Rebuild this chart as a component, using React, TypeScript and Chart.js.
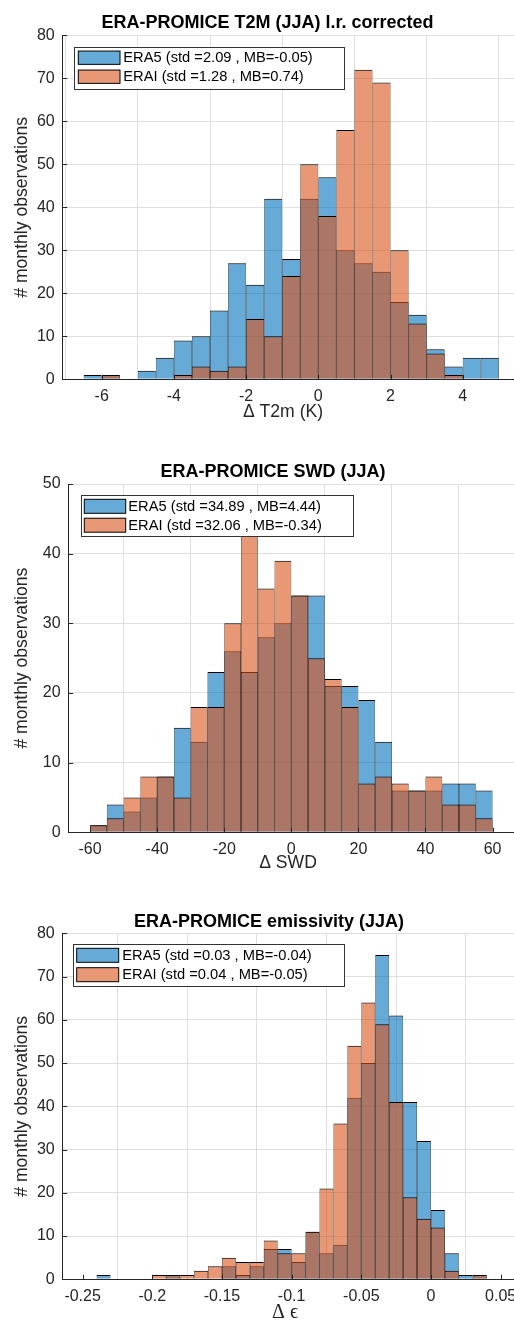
import React, { useEffect, useRef } from 'react';
import { Chart, registerables } from 'chart.js';

Chart.register(...registerables);

const SANS = '"Liberation Sans", Arial, Helvetica, sans-serif';
const SERIF = '"Liberation Serif", "DejaVu Serif", serif';
const AXIS = '#262626';
const GRID = '#dfdfdf';
const BLUE = 'rgba(0,114,189,0.6)';
const ORANGE = 'rgba(217,83,25,0.6)';

// ---------- Panel 1: T2M ----------
const t2mBins = [-6.25, -5.75, -5.25, -4.75, -4.25, -3.75, -3.25, -2.75, -2.25, -1.75, -1.25, -0.75, -0.25, 0.25, 0.75, 1.25, 1.75, 2.25, 2.75, 3.25, 3.75, 4.25, 4.75];
const t2mEra5 = [1, 1, 0, 2, 5, 9, 10, 16, 27, 22, 42, 28, 42, 47, 30, 27, 25, 18, 15, 7, 3, 5, 5];
const t2mErai = [0, 1, 0, 0, 0, 1, 3, 2, 3, 14, 10, 24, 50, 38, 58, 72, 69, 30, 13, 6, 1, 0, 0];
const t2mXTicks = [-6, -4, -2, 0, 2, 4];
const t2mYTicks = [0, 10, 20, 30, 40, 50, 60, 70, 80];
const t2mLegend = ['ERA5 (std =2.09 , MB=-0.05)', 'ERAI (std =1.28 , MB=0.74)'];

// ---------- Panel 2: SWD ----------
const swdBins = [-57.5, -52.5, -47.5, -42.5, -37.5, -32.5, -27.5, -22.5, -17.5, -12.5, -7.5, -2.5, 2.5, 7.5, 12.5, 17.5, 22.5, 27.5, 32.5, 37.5, 42.5, 47.5, 52.5, 57.5];
const swdEra5 = [1, 4, 3, 5, 8, 15, 13, 23, 26, 23, 28, 30, 34, 34, 21, 21, 19, 13, 6, 6, 6, 7, 7, 6];
const swdErai = [1, 2, 5, 8, 8, 5, 18, 18, 30, 43, 35, 39, 34, 25, 22, 18, 7, 8, 7, 6, 8, 4, 4, 2];
const swdXTicks = [-60, -40, -20, 0, 20, 40, 60];
const swdYTicks = [0, 10, 20, 30, 40, 50];
const swdLegend = ['ERA5 (std =34.89 , MB=4.44)', 'ERAI (std =32.06 , MB=-0.34)'];

// ---------- Panel 3: emissivity ----------
const emiBins = [-0.245, -0.235, -0.225, -0.215, -0.205, -0.195, -0.185, -0.175, -0.165, -0.155, -0.145, -0.135, -0.125, -0.115, -0.105, -0.095, -0.085, -0.075, -0.065, -0.055, -0.045, -0.035, -0.025, -0.015, -0.005, 0.005, 0.015, 0.025, 0.035, 0.045];
const emiEra5 = [0, 1, 0, 0, 0, 0, 1, 0, 0, 0, 3, 1, 3, 7, 7, 4, 11, 6, 8, 42, 50, 75, 61, 41, 32, 16, 6, 1, 1, 0];
const emiErai = [0, 0, 0, 0, 0, 1, 1, 1, 2, 3, 5, 4, 4, 9, 6, 6, 11, 21, 36, 54, 64, 59, 41, 19, 14, 12, 2, 0, 1, 0];
const emiXTicks = [-0.25, -0.2, -0.15, -0.1, -0.05, 0, 0.05];
const emiYTicks = [0, 10, 20, 30, 40, 50, 60, 70, 80];
const emiLegend = ['ERA5 (std =0.03 , MB=-0.04)', 'ERAI (std =0.04 , MB=-0.05)'];

const CANVAS_W = 530;

type Panel = {
  top: number; height: number;
  chartTop: number; chartBottom: number; chartLeft: number; chartRight: number;
  xMin: number; xMax: number; yMax: number;
  bins: number[]; era5: number[]; erai: number[];
  xTicks: number[]; yTicks: number[];
  title: string; titleX: number; titleY: number;
  xLabel: string; xLabelX: number; xLabelY: number; xLabelFont: string; xLabelSize: number;
  yLabel: string; yLabelX: number;
  legend: string[];
  legBox: [number, number, number, number];
  legPatchX: number; legPatchW: number; legPatchH: number;
  legRows: number[]; legTextX: number;
};

const panels: Panel[] = [
  {
    top: 0, height: 430,
    chartTop: 35.3, chartBottom: 379.3, chartLeft: 62.7, chartRight: 514,
    xMin: -7.08, xMax: 5.42, yMax: 80,
    bins: t2mBins, era5: t2mEra5, erai: t2mErai,
    xTicks: t2mXTicks, yTicks: t2mYTicks,
    title: 'ERA-PROMICE T2M (JJA) l.r. corrected', titleX: 267.5, titleY: 27.5,
    xLabel: 'Δ T2m (K)', xLabelX: 283, xLabelY: 412, xLabelFont: SANS, xLabelSize: 17.6,
    yLabel: '# monthly observations', yLabelX: 22,
    legend: t2mLegend,
    legBox: [74, 46.7, 270, 41.6],
    legPatchX: 78.3, legPatchW: 41.7, legPatchH: 13.3,
    legRows: [57.7, 76.7], legTextX: 123.3,
  },
  {
    top: 440, height: 440,
    chartTop: 484, chartBottom: 832.3, chartLeft: 68.6, chartRight: 514,
    xMin: -66.4, xMax: 66.4, yMax: 50,
    bins: swdBins, era5: swdEra5, erai: swdErai,
    xTicks: swdXTicks, yTicks: swdYTicks,
    title: 'ERA-PROMICE SWD (JJA)', titleX: 273, titleY: 477,
    xLabel: 'Δ SWD', xLabelX: 288, xLabelY: 863, xLabelFont: SANS, xLabelSize: 17.6,
    yLabel: '# monthly observations', yLabelX: 22,
    legend: swdLegend,
    legBox: [80.7, 495, 272, 41],
    legPatchX: 84.3, legPatchW: 41.4, legPatchH: 14,
    legRows: [506.3, 525.2], legTextX: 128.3,
  },
  {
    top: 890, height: 437,
    chartTop: 933.3, chartBottom: 1279.3, chartLeft: 62.7, chartRight: 514,
    xMin: -0.2643, xMax: 0.0596, yMax: 80,
    bins: emiBins, era5: emiEra5, erai: emiErai,
    xTicks: emiXTicks, yTicks: emiYTicks,
    title: 'ERA-PROMICE emissivity (JJA)', titleX: 269, titleY: 927,
    xLabel: 'Δ ϵ', xLabelX: 285, xLabelY: 1313, xLabelFont: SERIF, xLabelSize: 20,
    yLabel: '# monthly observations', yLabelX: 22,
    legend: emiLegend,
    legBox: [72.7, 944, 271.3, 42],
    legPatchX: 76.7, legPatchW: 42, legPatchH: 14,
    legRows: [955.3, 974.7], legTextX: 122.3,
  },
];

function HistPanel({ p, idx }: { p: Panel; idx: number }) {
  const ref = useRef<HTMLCanvasElement | null>(null);
  useEffect(() => {
    if (!ref.current) return;
    const xAxisH = 30;
    const padTop = p.chartTop - p.top;
    const padBottom = p.height - (p.chartBottom - p.top) - xAxisH;
    const padRight = CANVAS_W - p.chartRight;
    const off = p.top;

    const decor = {
      id: 'decor' + idx,
      afterDraw(chart: any) {
        const ctx = chart.ctx as CanvasRenderingContext2D;
        const xs = chart.scales.x;
        const ys = chart.scales.y;
        const { left, bottom } = chart.chartArea;
        ctx.save();
        // inward tick marks
        ctx.strokeStyle = AXIS;
        ctx.lineWidth = 1;
        ctx.beginPath();
        for (const v of p.xTicks) {
          const px = Math.round(xs.getPixelForValue(v)) + 0.5;
          ctx.moveTo(px, bottom);
          ctx.lineTo(px, bottom - 4.5);
        }
        for (const v of p.yTicks) {
          const py = Math.round(ys.getPixelForValue(v)) + 0.5;
          ctx.moveTo(left, py);
          ctx.lineTo(left + 4.5, py);
        }
        ctx.stroke();

        // legend
        const [bx, by, bw, bh] = p.legBox;
        ctx.fillStyle = '#ffffff';
        ctx.fillRect(bx, by - off, bw, bh);
        ctx.strokeStyle = '#333333';
        ctx.lineWidth = 1;
        ctx.strokeRect(Math.round(bx) + 0.5, Math.round(by - off) + 0.5, Math.round(bw), Math.round(bh));
        const colors = [BLUE, ORANGE];
        ctx.font = '14.7px ' + SANS;
        ctx.textBaseline = 'middle';
        ctx.textAlign = 'left';
        p.legend.forEach((label, i) => {
          const cy = p.legRows[i] - off;
          ctx.fillStyle = colors[i];
          ctx.fillRect(p.legPatchX, cy - p.legPatchH / 2, p.legPatchW, p.legPatchH);
          ctx.strokeStyle = '#000000';
          ctx.strokeRect(p.legPatchX, cy - p.legPatchH / 2, p.legPatchW, p.legPatchH);
          ctx.fillStyle = '#000000';
          ctx.fillText(label, p.legTextX, cy + 0.5);
        });

        // title
        ctx.fillStyle = '#000000';
        ctx.font = 'bold 18px ' + SANS;
        ctx.textAlign = 'center';
        ctx.textBaseline = 'alphabetic';
        ctx.fillText(p.title, p.titleX, p.titleY - off);

        // x label
        ctx.fillStyle = AXIS;
        ctx.font = p.xLabelSize + 'px ' + p.xLabelFont;
        ctx.textBaseline = 'middle';
        ctx.fillText(p.xLabel, p.xLabelX, p.xLabelY - off);

        // y label
        ctx.save();
        ctx.translate(p.yLabelX, (p.chartTop + p.chartBottom) / 2 - off);
        ctx.rotate(-Math.PI / 2);
        ctx.font = '17.6px ' + SANS;
        ctx.textAlign = 'center';
        ctx.textBaseline = 'middle';
        ctx.fillText(p.yLabel, 0, 0);
        ctx.restore();

        ctx.restore();
      },
    };

    const chart = new Chart(ref.current, {
      type: 'bar',
      data: {
        datasets: [
          {
            label: p.legend[0],
            data: p.bins.map((x, i) => ({ x, y: p.era5[i] })),
            backgroundColor: BLUE,
            borderColor: '#000000',
            borderWidth: { top: 1, left: 0.5, right: 0.5, bottom: 0 },
            borderSkipped: 'start',
            barPercentage: 1,
            categoryPercentage: 1,
            grouped: false,
            inflateAmount: 0,
            order: 2,
          } as any,
          {
            label: p.legend[1],
            data: p.bins.map((x, i) => ({ x, y: p.erai[i] })),
            backgroundColor: ORANGE,
            borderColor: '#000000',
            borderWidth: { top: 1, left: 0.5, right: 0.5, bottom: 0 },
            borderSkipped: 'start',
            barPercentage: 1,
            categoryPercentage: 1,
            grouped: false,
            inflateAmount: 0,
            order: 1,
          } as any,
        ],
      },
      options: {
        responsive: false,
        animation: false,
        events: [],
        layout: { padding: { left: 0, right: padRight, top: padTop, bottom: padBottom } },
        plugins: { legend: { display: false }, tooltip: { enabled: false }, title: { display: false } },
        scales: {
          x: {
            type: 'linear',
            min: p.xMin,
            max: p.xMax,
            offset: false,
            afterBuildTicks: (s: any) => { s.ticks = p.xTicks.map((v) => ({ value: v })); },
            afterFit: (s: any) => { s.height = xAxisH; },
            grid: { color: GRID, drawTicks: false, lineWidth: 1 },
            border: { display: true, color: AXIS, width: 1 },
            ticks: {
              autoSkip: false,
              maxRotation: 0,
              padding: 8,
              color: AXIS,
              font: { family: SANS, size: 16 },
              callback: (v: any) => String(v),
            },
          },
          y: {
            type: 'linear',
            min: 0,
            max: p.yMax,
            afterBuildTicks: (s: any) => { s.ticks = p.yTicks.map((v) => ({ value: v })); },
            afterFit: (s: any) => { s.width = p.chartLeft; },
            grid: { color: GRID, drawTicks: false, lineWidth: 1 },
            border: { display: true, color: AXIS, width: 1 },
            ticks: {
              padding: 8,
              color: AXIS,
              font: { family: SANS, size: 16 },
              callback: (v: any) => String(v),
            },
          },
        },
      } as any,
      plugins: [decor],
    });
    return () => chart.destroy();
  }, [p, idx]);

  return (
    <div style={{ position: 'absolute', left: 0, top: p.top, width: CANVAS_W, height: p.height }}>
      <canvas ref={ref} width={CANVAS_W} height={p.height} style={{ display: 'block', width: CANVAS_W, height: p.height }} />
    </div>
  );
}

export default function App() {
  return (
    <div style={{ position: 'fixed', left: 0, top: 0, width: 514, height: 1327, overflow: 'hidden', background: '#ffffff' }}>
      {panels.map((p, i) => (
        <HistPanel key={i} p={p} idx={i} />
      ))}
    </div>
  );
}
